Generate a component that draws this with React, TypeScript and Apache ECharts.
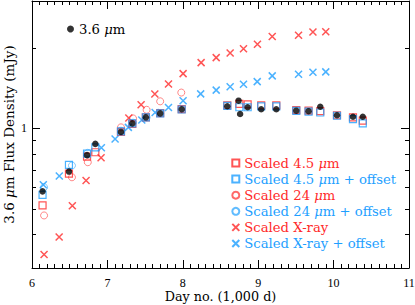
import React, { useEffect, useRef } from "react";
import * as echarts from "echarts";

const RED = "#ff2a2a";
const BLUE = "#1e9fff";
const FONT = "DejaVu Serif";
const TICK_FONT = "Liberation Serif";

// [day (1,000 d), flux (mJy)]
const flux36: number[][] = [
  [6.14, 0.581], [6.49, 0.689], [6.73, 0.794], [6.84, 0.875], [7.18, 0.97], [7.33, 1.044],
  [7.51, 1.1], [7.7, 1.138], [7.985, 1.18], [8.59, 1.21], [8.74, 1.27], [8.76, 1.132],
  [8.86, 1.2], [9.04, 1.18], [9.24, 1.18], [9.505, 1.165], [9.668, 1.16], [9.823, 1.205],
  [10.045, 1.12], [10.257, 1.106], [10.387, 1.106],
];
const scaled45: number[][] = [
  [6.14, 0.515], [6.49, 0.677], [6.73, 0.784], [6.84, 0.814], [7.18, 0.97], [7.33, 1.04],
  [7.51, 1.1], [7.7, 1.14], [7.985, 1.18], [8.59, 1.22], [8.75, 1.235], [8.86, 1.23],
  [9.04, 1.22], [9.24, 1.22], [9.505, 1.17], [9.668, 1.165], [9.823, 1.16], [10.045, 1.12],
  [10.257, 1.1], [10.387, 1.07],
];
const offset45: number[][] = [
  [6.14, 0.564], [6.49, 0.73], [6.73, 0.804], [6.84, 0.849], [7.18, 0.974], [7.33, 1.044],
  [7.51, 1.099], [7.7, 1.138], [7.985, 1.177], [8.59, 1.215], [8.75, 1.2], [8.86, 1.2],
  [9.04, 1.21], [9.24, 1.21], [9.505, 1.164], [9.668, 1.155], [9.823, 1.147], [10.045, 1.115],
  [10.257, 1.084], [10.387, 1.044],
];
const scaled24: number[][] = [
  [6.16, 0.472], [6.53, 0.656], [6.74, 0.747], [7.18, 1.009], [7.34, 1.09], [7.52, 1.174],
  [7.7, 1.263], [7.98, 1.362],
];
const offset24: number[][] = [
  [6.16, 0.602], [6.53, 0.726], [6.74, 0.81], [7.18, 0.98], [7.34, 1.05], [7.52, 1.1],
  [7.7, 1.14], [7.98, 1.18],
];
const xray: number[][] = [
  [6.16, 0.337], [6.36, 0.392], [6.535, 0.513], [6.717, 0.638], [6.916, 0.776], [7.284, 1.093],
  [7.447, 1.226], [7.629, 1.345], [7.81, 1.466], [8.004, 1.604], [8.243, 1.763], [8.443, 1.841],
  [8.628, 1.916], [8.805, 1.987], [8.99, 2.065], [9.186, 2.208], [9.535, 2.231], [9.726, 2.296],
  [9.896, 2.302],
];
const xrayOffset: number[][] = [
  [5.99, 0.586], [6.15, 0.615], [6.362, 0.663], [6.92, 0.846], [7.102, 0.913], [7.278, 1.009],
  [7.456, 1.075], [7.633, 1.147], [7.81, 1.198], [8.004, 1.269], [8.237, 1.347], [8.443, 1.391],
  [8.628, 1.431], [8.805, 1.464], [8.987, 1.497], [9.186, 1.573], [9.535, 1.596], [9.726, 1.623],
  [9.896, 1.628],
];

const yMajorTicks = [1];
const yMinorTicks = [0.4, 0.5, 0.6, 0.7, 0.8, 0.9, 2];

const NAME_36 = "3.6 μm";
const NAME_S45 = "Scaled 4.5 μm";
const NAME_O45 = "Scaled 4.5 μm + offset";
const NAME_S24 = "Scaled 24 μm";
const NAME_O24 = "Scaled 24 μm + offset";
const NAME_SX = "Scaled X-ray";
const NAME_OX = "Scaled X-ray + offset";

const CROSS = "path://M0,0L10,10M10,0L0,10";

export default function App() {
  const ref = useRef<HTMLDivElement>(null);
  useEffect(() => {
    if (!ref.current) return;
    const chart = echarts.init(ref.current, undefined, { renderer: "svg" });
    const black = "#000";
    const xBase = (pos: string, showLabel: boolean) => ({
      type: "value",
      min: 6,
      max: 11,
      interval: 1,
      position: pos,
      axisLine: { show: true, onZero: false, lineStyle: { color: black, width: 1 } },
      axisTick: { show: true, inside: true, length: 8, lineStyle: { color: black } },
      minorTick: { show: true, splitNumber: 10, length: 4, lineStyle: { color: black } },
      axisLabel: {
        show: showLabel,
        fontFamily: TICK_FONT,
        fontSize: 12,
        lineHeight: 12,
        color: black,
        margin: 9,
      },
      splitLine: { show: false },
      minorSplitLine: { show: false },
    });
    const yBase = (pos: string, major: boolean, showLabel: boolean) => ({
      type: "log",
      logBase: 10,
      min: 0.3,
      max: 3,
      position: pos,
      axisLine: { show: major, onZero: false, lineStyle: { color: black, width: 1 } },
      axisTick: {
        show: true,
        inside: true,
        length: major ? 8 : 4,
        customValues: major ? yMajorTicks : yMinorTicks,
        lineStyle: { color: black },
      },
      axisLabel: {
        show: showLabel,
        customValues: yMajorTicks,
        formatter: (v: number) => String(v),
        fontFamily: TICK_FONT,
        fontSize: 12,
        color: black,
        margin: 5,
      },
      splitLine: { show: false },
    });
    const fmt = (name: string) => {
      const isBlue = name.indexOf("offset") >= 0;
      const key = name === NAME_36 ? "ik" : isBlue ? "ib" : "ir";
      return name.replace("μ", `{${key}|μ}`);
    };
    const LS = 13.2;
    const rich = {
      ik: { fontStyle: "italic", fontFamily: FONT, fontSize: LS, color: black },
      ir: { fontStyle: "italic", fontFamily: FONT, fontSize: LS, color: RED },
      ib: { fontStyle: "italic", fontFamily: FONT, fontSize: LS, color: BLUE },
    };
    const option: any = {
      animation: false,
      backgroundColor: "#fff",
      grid: { left: 32, right: 6, top: 1, bottom: 37, outerBoundsMode: "none" },
      xAxis: [
        {
          ...xBase("bottom", true),
          name: "Day no. (1,000 d)",
          nameLocation: "middle",
          nameGap: 22,
          nameMoveOverlap: false,
          nameTextStyle: { fontFamily: FONT, fontSize: 12.75, lineHeight: 12, color: black },
        },
        xBase("top", false),
      ],
      yAxis: [
        {
          ...yBase("left", true, true),
          name: "3.6 {i|μ}m Flux Density (mJy)",
          nameLocation: "middle",
          nameGap: 17,
          nameMoveOverlap: false,
          nameTextStyle: {
            fontFamily: FONT,
            fontSize: 13.5,
            lineHeight: 12.5,
            color: black,
            rich: {
              i: { fontStyle: "italic", fontFamily: FONT, fontSize: 13.5, lineHeight: 12.5, color: black },
            },
          },
        },
        yBase("left", false, false),
        yBase("right", true, false),
        yBase("right", false, false),
      ],
      legend: [
        {
          data: [{ name: NAME_36, textStyle: { color: black } }],
          left: 62,
          top: 17.5,
          orient: "vertical",
          itemWidth: 7,
          itemHeight: 7,
          textStyle: { fontFamily: FONT, fontSize: LS, color: black, rich },
          formatter: fmt,
        },
        {
          data: [
            { name: NAME_S45, textStyle: { color: RED } },
            { name: NAME_O45, textStyle: { color: BLUE } },
            { name: NAME_S24, textStyle: { color: RED } },
            { name: NAME_O24, textStyle: { color: BLUE } },
            { name: NAME_SX, textStyle: { color: RED } },
            { name: NAME_OX, textStyle: { color: BLUE } },
          ],
          left: 224.8,
          top: 151.5,
          orient: "vertical",
          itemGap: 3.1,
          itemWidth: 7,
          itemHeight: 7,
          textStyle: { fontFamily: FONT, fontSize: LS, rich },
          formatter: fmt,
        },
      ],
      series: [
        {
          name: NAME_SX, type: "scatter", data: xray, symbol: CROSS, symbolSize: 7,
          itemStyle: { color: "none", borderColor: RED, borderWidth: 1.5 },
        },
        {
          name: NAME_OX, type: "scatter", data: xrayOffset, symbol: CROSS, symbolSize: 7,
          itemStyle: { color: "none", borderColor: BLUE, borderWidth: 1.5 },
        },
        {
          name: NAME_S24, type: "scatter", data: scaled24, symbol: "circle", symbolSize: 7,
          itemStyle: { color: "rgba(0,0,0,0)", borderColor: RED, borderWidth: 0.8, opacity: 0.7 },
        },
        {
          name: NAME_O24, type: "scatter", data: offset24, symbol: "circle", symbolSize: 7,
          itemStyle: { color: "rgba(0,0,0,0)", borderColor: BLUE, borderWidth: 0.8, opacity: 0.7 },
        },
        {
          name: NAME_S45, type: "scatter", data: scaled45, symbol: "rect", symbolSize: 7,
          itemStyle: { color: "rgba(0,0,0,0)", borderColor: RED, borderWidth: 1.2 },
        },
        {
          name: NAME_O45, type: "scatter", data: offset45, symbol: "rect", symbolSize: 7,
          itemStyle: { color: "rgba(0,0,0,0)", borderColor: BLUE, borderWidth: 1.2 },
        },
        {
          name: NAME_36, type: "scatter", data: flux36, symbol: "circle", symbolSize: 6.5,
          itemStyle: { color: black, borderWidth: 0 },
        },
      ],
    };
    chart.setOption(option);
    return () => chart.dispose();
  }, []);
  return (
    <div
      ref={ref}
      style={{ position: "absolute", left: 0, top: 0, width: 415, height: 305, background: "#fff" }}
    />
  );
}
